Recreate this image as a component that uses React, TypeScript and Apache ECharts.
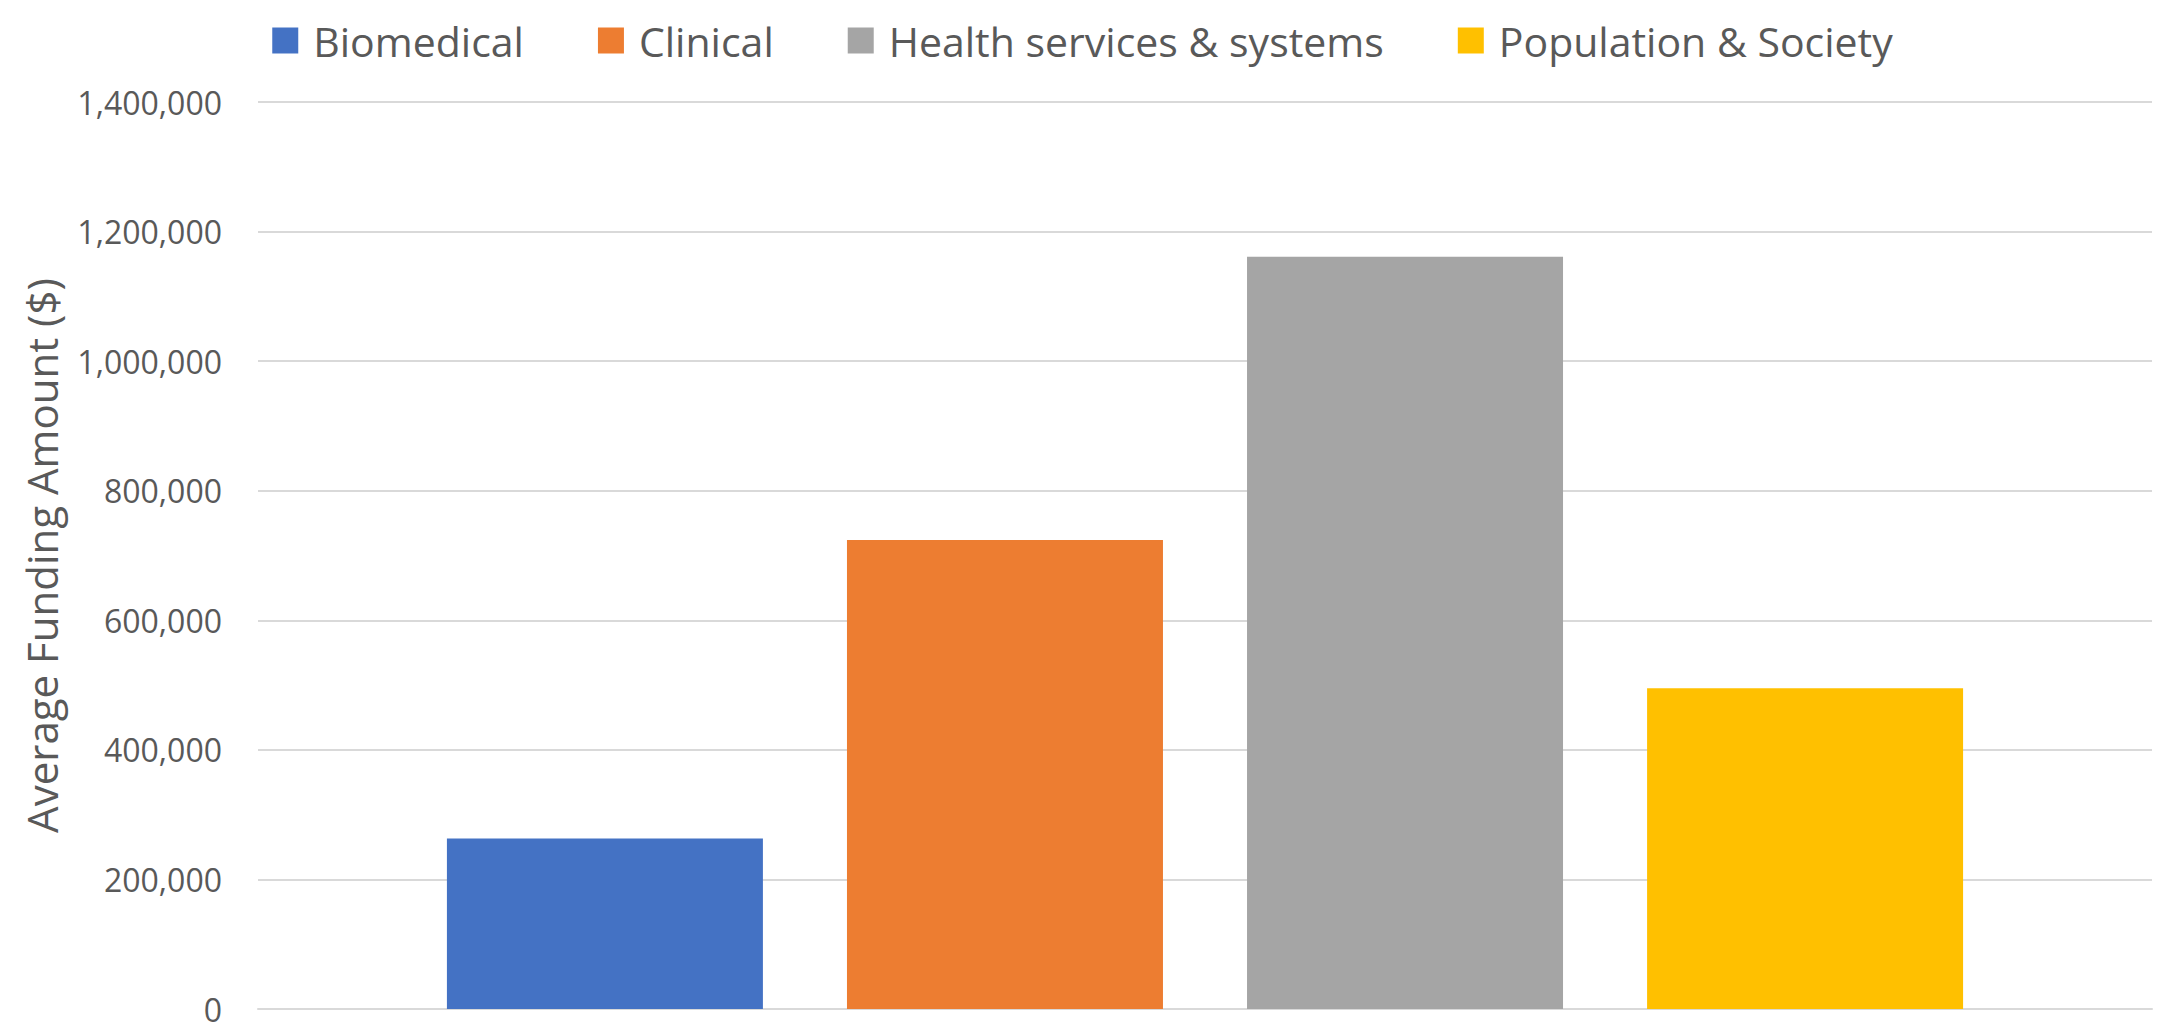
import React, { useEffect, useRef } from "react";
import * as echarts from "echarts";

const seriesNames = ["Biomedical", "Clinical", "Health services & systems", "Population & Society"];
const seriesValues = [263000, 724000, 1161000, 495000];
const seriesColors = ["#4472C4", "#ED7D31", "#A5A5A5", "#FFC000"];
const categories = [""];
const yTicks = { min: 0, max: 1400000, interval: 200000 };
const yAxisTitle = "Average Funding Amount ($)";

export default function App() {
  const ref = useRef<HTMLDivElement>(null);
  useEffect(() => {
    document.body.style.margin = "0";
    const chart = echarts.init(ref.current!, undefined, { renderer: "svg" });
    const font = "'Open Sans', sans-serif";
    chart.setOption({
      animation: false,
      backgroundColor: "#ffffff",
      textStyle: { fontFamily: font },
      legend: {
        top: 15,
        left: "center",
        itemWidth: 26,
        itemHeight: 26,
        itemGap: 74,
        icon: "rect",
        data: seriesNames,
        textStyle: {
          fontFamily: font,
          fontSize: 41,
          color: "#595959",
          lineHeight: 26,
          padding: [0, 0, 0, 10],
        },
      },
      grid: { left: 258, right: 13, top: 102, bottom: 19, containLabel: false },
      xAxis: {
        type: "category",
        data: categories,
        axisLine: { show: true, lineStyle: { color: "#d9d9d9", width: 2 } },
        axisTick: { show: false },
        axisLabel: { show: false },
      },
      yAxis: {
        type: "value",
        min: yTicks.min,
        max: yTicks.max,
        interval: yTicks.interval,
        name: yAxisTitle,
        nameLocation: "middle",
        nameGap: 196,
        nameTextStyle: { fontFamily: font, fontSize: 42, color: "#595959" },
        axisLine: { show: false },
        axisTick: { show: false },
        axisLabel: {
          margin: 36,
          fontFamily: font,
          fontSize: 32,
          lineHeight: 30,
          color: "#595959",
          formatter: (v: number) => v.toLocaleString("en-US"),
        },
        splitLine: { lineStyle: { color: "#d9d9d9", width: 2 } },
      },
      series: seriesNames.map((name, i) => ({
        name,
        type: "bar",
        data: [seriesValues[i]],
        barWidth: 316,
        barGap: "26.6%",
        itemStyle: { color: seriesColors[i] },
      })),
    });
    return () => chart.dispose();
  }, []);
  return <div ref={ref} style={{ width: 2165, height: 1028 }} />;
}
